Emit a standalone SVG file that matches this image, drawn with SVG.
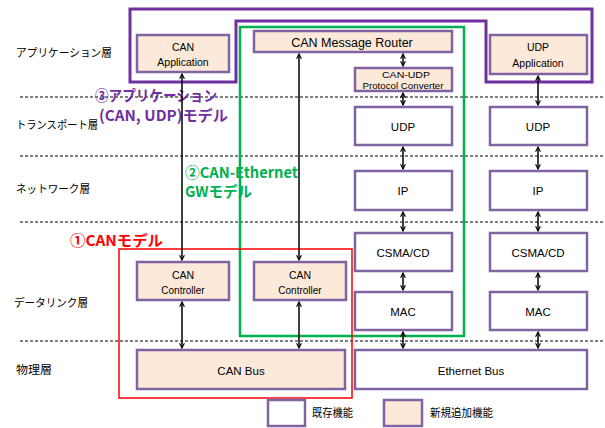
<svg xmlns="http://www.w3.org/2000/svg" width="605" height="428" viewBox="0 0 605 428">
<defs>
<marker id="ah" viewBox="0 0 10 10" refX="9" refY="5" markerWidth="6" markerHeight="6" orient="auto-start-reverse" markerUnits="userSpaceOnUse">
<path d="M1,1 L9,5 L1,9" fill="none" stroke="#000" stroke-width="1.8"/>
</marker>
<style>
.box{fill:#fff;stroke:#8064a2;stroke-width:2.5}
.new{fill:#fce9d9;stroke:#8064a2;stroke-width:2.5}
.t{font-family:"Liberation Sans",Arial,sans-serif;fill:#000;text-anchor:middle}
.jp{font-family:"Noto Sans CJK JP","Noto Sans",sans-serif;font-size:11px;fill:#000}
.dash{stroke:#000;stroke-width:1;stroke-dasharray:3,2;fill:none}
.ar{stroke:#000;stroke-width:1.5;fill:none;marker-start:url(#ah);marker-end:url(#ah)}
.ml{font-family:"Noto Sans CJK JP","Noto Sans",sans-serif;font-weight:bold;font-size:15px}
</style>
</defs>
<g id="layers">
<line class="dash" x1="20" y1="97" x2="605" y2="97"/>
<line class="dash" x1="20" y1="156" x2="605" y2="156"/>
<line class="dash" x1="20" y1="222" x2="605" y2="222"/>
<line class="dash" x1="20" y1="341" x2="605" y2="341"/>
<text class="jp" x="16" y="57" textLength="96" lengthAdjust="spacingAndGlyphs">アプリケーション層</text>
<text class="jp" x="16" y="129" textLength="82" lengthAdjust="spacingAndGlyphs">トランスポート層</text>
<text class="jp" x="16" y="193" textLength="74" lengthAdjust="spacingAndGlyphs">ネットワーク層</text>
<text class="jp" x="14" y="307" textLength="74" lengthAdjust="spacingAndGlyphs">データリンク層</text>
<text class="jp" x="16" y="374" textLength="36" lengthAdjust="spacingAndGlyphs">物理層</text>
</g>
<g id="model3">
<path d="M130,9 H592 V82 H486 V21 H236 V82 H130 Z" fill="none" stroke="#7030a0" stroke-width="3"/>
<text class="ml" x="95" y="101" fill="#7030a0" textLength="122" lengthAdjust="spacingAndGlyphs">③アプリケーション</text>
<text class="ml" x="99" y="121" fill="#7030a0" textLength="129" lengthAdjust="spacingAndGlyphs">(CAN, UDP)モデル</text>
</g>
<g id="model2">
<rect x="240" y="27" width="224" height="309" fill="none" stroke="#00b050" stroke-width="2.5"/>
<text class="ml" x="185" y="178" fill="#00b050" textLength="113" lengthAdjust="spacingAndGlyphs">②CAN-Ethernet</text>
<text class="ml" x="185" y="197" fill="#00b050" textLength="67" lengthAdjust="spacingAndGlyphs">GWモデル</text>
</g>
<g id="model1">
<rect x="119" y="249" width="233" height="149" fill="none" stroke="#ff0000" stroke-width="1.5"/>
<text class="ml" x="70" y="246" fill="#ff0000" textLength="93" lengthAdjust="spacingAndGlyphs">①CANモデル</text>
</g>
<g id="can-app"><rect class="new" x="137" y="35" width="92" height="37"/><text class="t" x="183" y="51" font-size="10.5">CAN</text><text class="t" x="183" y="66" font-size="10.5">Application</text></g>
<g id="router"><rect class="new" x="254" y="31" width="198" height="21"/><text class="t" x="352" y="46.5" font-size="12.5">CAN Message Router</text></g>
<g id="converter"><rect class="new" x="355" y="68" width="97" height="23"/><text class="t" x="406" y="78" font-size="8.5" textLength="48" lengthAdjust="spacingAndGlyphs">CAN-UDP</text><text class="t" x="403" y="89" font-size="8.5" textLength="81" lengthAdjust="spacingAndGlyphs">Protocol  Converter</text></g>
<g id="udp-app"><rect class="new" x="490" y="35" width="97" height="39"/><text class="t" x="538" y="51" font-size="10.5">UDP</text><text class="t" x="538" y="67" font-size="10.5">Application</text></g>
<g id="udp1"><rect class="box" x="355" y="107" width="97" height="38"/><text class="t" x="403" y="131" font-size="11.5">UDP</text></g>
<g id="udp2"><rect class="box" x="490" y="107" width="97" height="38"/><text class="t" x="538" y="131" font-size="11.5">UDP</text></g>
<g id="ip1"><rect class="box" x="355" y="171" width="97" height="39"/><text class="t" x="403" y="195" font-size="11.5">IP</text></g>
<g id="ip2"><rect class="box" x="490" y="171" width="97" height="39"/><text class="t" x="538" y="195" font-size="11.5">IP</text></g>
<g id="csma1"><rect class="box" x="355" y="233" width="97" height="38"/><text class="t" x="403" y="257" font-size="11.5">CSMA/CD</text></g>
<g id="csma2"><rect class="box" x="490" y="233" width="97" height="38"/><text class="t" x="538" y="257" font-size="11.5">CSMA/CD</text></g>
<g id="mac1"><rect class="box" x="355" y="292" width="97" height="38"/><text class="t" x="403" y="316" font-size="11.5">MAC</text></g>
<g id="mac2"><rect class="box" x="490" y="292" width="97" height="38"/><text class="t" x="538" y="316" font-size="11.5">MAC</text></g>
<g id="eth-bus"><rect class="box" x="355" y="350" width="232" height="39"/><text class="t" x="471" y="375" font-size="11.5">Ethernet Bus</text></g>
<g id="can-ctrl1"><rect class="new" x="137" y="262" width="92" height="38"/><text class="t" x="183" y="279" font-size="10.5">CAN</text><text class="t" x="183" y="294" font-size="10">Controller</text></g>
<g id="can-ctrl2"><rect class="new" x="254" y="262" width="92" height="38"/><text class="t" x="300" y="279" font-size="10.5">CAN</text><text class="t" x="300" y="294" font-size="10">Controller</text></g>
<g id="can-bus"><rect class="new" x="137" y="350" width="208" height="39"/><text class="t" x="241" y="375" font-size="11.5">CAN Bus</text></g>
<g id="connectors">
<line class="ar" x1="182" y1="74" x2="182" y2="260"/>
<line class="ar" x1="182" y1="302" x2="182" y2="348"/>
<line class="ar" x1="299" y1="54" x2="299" y2="260"/>
<line class="ar" x1="299" y1="302" x2="299" y2="348"/>
<line class="ar" x1="403" y1="54" x2="403" y2="66"/>
<line class="ar" x1="403" y1="93" x2="403" y2="105"/>
<line class="ar" x1="403" y1="147" x2="403" y2="169"/>
<line class="ar" x1="403" y1="212" x2="403" y2="231"/>
<line class="ar" x1="403" y1="273" x2="403" y2="290"/>
<line class="ar" x1="403" y1="332" x2="403" y2="348"/>
<line class="ar" x1="538" y1="76" x2="538" y2="105"/>
<line class="ar" x1="538" y1="147" x2="538" y2="169"/>
<line class="ar" x1="538" y1="212" x2="538" y2="231"/>
<line class="ar" x1="538" y1="273" x2="538" y2="290"/>
<line class="ar" x1="538" y1="332" x2="538" y2="348"/>
</g>
<g id="legend">
<rect class="box" x="268" y="400" width="37" height="26"/>
<text class="jp" x="312" y="417" textLength="41" lengthAdjust="spacingAndGlyphs">既存機能</text>
<rect class="new" x="384" y="400" width="38" height="26"/>
<text class="jp" x="430" y="417" textLength="63" lengthAdjust="spacingAndGlyphs">新規追加機能</text>
</g>
</svg>
